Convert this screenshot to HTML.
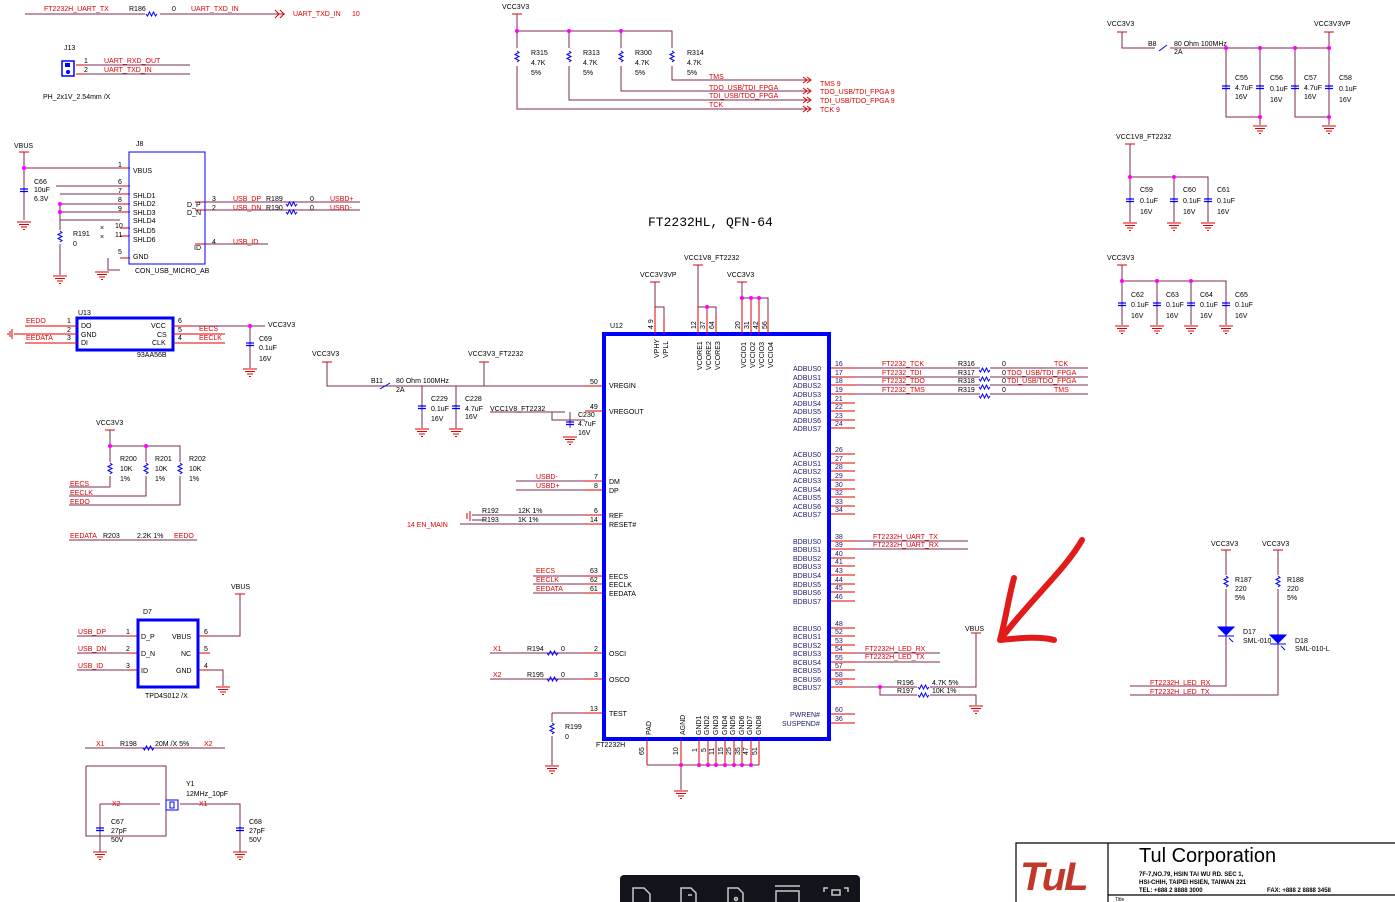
<!DOCTYPE html>
<html><head><meta charset="utf-8"><style>
html,body{margin:0;padding:0;background:#fff}
svg{display:block}
text{font-family:"Liberation Sans",sans-serif;font-size:7px;fill:#1a1a6e}
.r{fill:#e00000}
.b{fill:#000}
.w{stroke:#7b2a55;stroke-width:1;fill:none}
.p{stroke:#e00000;stroke-width:1;fill:none}
.bl{stroke:#0000ff;fill:none}
</style></head><body>
<svg width="1395" height="902" viewBox="0 0 1395 902" xmlns="http://www.w3.org/2000/svg">
<defs>
<g id="gnd"><path d="M-7 0h14M-5 2.5h10M-3 5h6M-1 7.5h2" stroke="#e00000" fill="none"/></g>
<g id="cap"><path d="M-4 -1h8M-4 1.5h8M0 -1v-1M0 1.5v1" stroke="#0000ff" stroke-width="1.2" fill="none"/></g>
<g id="rv"><path d="M0 -6l2 1.5l-4 2l4 2l-4 2l4 2l-2 1.5" stroke="#0000ff" fill="none"/></g>
<g id="rh"><path d="M-6 0l1.5 2l2 -4l2 4l2 -4l2 4l1.5 -2" stroke="#0000ff" fill="none"/></g>
<g id="dot"><circle r="2" fill="#ff00ff"/></g>
<g id="pw"><path d="M-5 0h10" stroke="#e00000"/></g>
</defs>

<!-- top-left UART -->
<path class="w" d="M25 14H145M160 14H285"/>
<use href="#rh" x="152" y="14"/>
<text x="44" y="11" class="r">FT2232H_UART_TX</text><text x="129" y="11" class="b">R186</text><text x="172" y="11" class="b">0</text><text x="191" y="11" class="r">UART_TXD_IN</text>
<path d="M275 10l4 4l-4 4M280 10l4 4l-4 4" stroke="#e00000" fill="none"/>
<text x="293" y="16" class="r">UART_TXD_IN</text><text x="352" y="16" class="r">10</text>
<text x="64" y="50" class="b">J13</text>
<rect x="62" y="61" width="12" height="15" fill="none" stroke="#0000ff" stroke-width="1.5"/>
<rect x="65" y="63" width="5" height="4" fill="#0000ff"/><circle cx="68" cy="72" r="2" fill="#0000ff"/>
<path class="p" d="M76 65h10M76 74h10"/><path class="w" d="M86 65H190M86 74H190"/>
<text x="84" y="63" class="b">1</text><text x="84" y="72" class="b">2</text>
<text x="104" y="63" class="r">UART_RXD_OUT</text><text x="104" y="72" class="r">UART_TXD_IN</text>
<text x="43" y="99" class="b">PH_2x1V_2.54mm /X</text>

<!-- pullups top -->
<text x="502" y="9" class="b">VCC3V3</text>
<use href="#pw" x="517" y="14"/>
<path class="w" d="M517 14V31H672V80H810M517 31V109H810M569 31V100H810M621 31V91H810"/>
<use href="#dot" x="517" y="31"/><use href="#dot" x="569" y="31"/><use href="#dot" x="621" y="31"/>
<rect x="514" y="48" width="7" height="18" fill="#fff"/><rect x="566" y="48" width="7" height="18" fill="#fff"/><rect x="618" y="48" width="7" height="18" fill="#fff"/><rect x="669" y="48" width="7" height="18" fill="#fff"/>
<use href="#rv" x="517" y="57"/><use href="#rv" x="569" y="57"/><use href="#rv" x="621" y="57"/><use href="#rv" x="672" y="57"/>
<text x="531" y="55" class="b">R315</text><text x="531" y="65" class="b">4.7K</text><text x="531" y="75" class="b">5%</text>
<text x="583" y="55" class="b">R313</text><text x="583" y="65" class="b">4.7K</text><text x="583" y="75" class="b">5%</text>
<text x="635" y="55" class="b">R300</text><text x="635" y="65" class="b">4.7K</text><text x="635" y="75" class="b">5%</text>
<text x="687" y="55" class="b">R314</text><text x="687" y="65" class="b">4.7K</text><text x="687" y="75" class="b">5%</text>
<text x="709" y="79" class="r">TMS</text><text x="709" y="90" class="r">TDO_USB/TDI_FPGA</text><text x="709" y="98" class="r">TDI_USB/TDO_FPGA</text><text x="709" y="107" class="r">TCK</text>
<path d="M803 77l4 3l-4 3M803 88l4 3l-4 3M803 97l4 3l-4 3M803 106l4 3l-4 3M807 77l4 3l-4 3M807 88l4 3l-4 3M807 97l4 3l-4 3M807 106l4 3l-4 3" stroke="#e00000" fill="none"/>
<text x="820" y="86" class="r">TMS  9</text><text x="820" y="94" class="r">TDO_USB/TDI_FPGA   9</text><text x="820" y="103" class="r">TDI_USB/TDO_FPGA   9</text><text x="820" y="112" class="r">TCK  9</text>

<!-- USB connector J8 -->
<text x="14" y="148" class="b">VBUS</text><use href="#pw" x="24" y="152"/>
<path class="w" d="M24 152V220M24 168H120M60 204V275M60 194H120M60 204H120M60 212H120M60 220H120M56 186H120M108 258V270H120M205 202H360M205 210H360M205 244H268"/>
<use href="#dot" x="24" y="168"/><use href="#dot" x="60" y="204"/><use href="#dot" x="60" y="212"/>
<use href="#cap" x="24" y="190"/><use href="#gnd" x="24" y="222"/><use href="#gnd" x="60" y="276"/><use href="#gnd" x="102" y="272"/>
<rect x="57" y="230" width="6" height="14" fill="#fff"/><use href="#rv" x="60" y="237"/>
<path class="p" d="M120 168h10M120 186h10M120 194h10M120 204h10M120 212h10M120 228h10M120 236h10M120 258h10M195 202h12M195 210h12M195 244h12"/>
<text x="100" y="230" class="b">×</text><text x="100" y="239" class="b">×</text>
<rect x="129" y="152" width="76" height="112" fill="none" stroke="#0000ff" stroke-width="1"/>
<text x="136" y="146" class="b">J8</text>
<text x="118" y="167" class="b">1</text><text x="118" y="184" class="b">6</text><text x="118" y="193" class="b">7</text><text x="118" y="202" class="b">8</text><text x="118" y="211" class="b">9</text><text x="115" y="228" class="b">10</text><text x="115" y="237" class="b">11</text><text x="118" y="254" class="b">5</text>
<text x="133" y="173" class="b">VBUS</text><text x="133" y="198" class="b">SHLD1</text><text x="133" y="206" class="b">SHLD2</text><text x="133" y="215" class="b">SHLD3</text><text x="133" y="223" class="b">SHLD4</text><text x="133" y="233" class="b">SHLD5</text><text x="133" y="242" class="b">SHLD6</text><text x="133" y="259" class="b">GND</text>
<text x="187" y="207" class="b">D_P</text><text x="187" y="215" class="b">D_N</text><text x="194" y="250" class="b">ID</text>
<text x="212" y="201" class="b">3</text><text x="212" y="210" class="b">2</text><text x="212" y="244" class="b">4</text>
<text x="233" y="201" class="r">USB_DP</text><text x="266" y="201" class="b">R189</text><text x="233" y="210" class="r">USB_DN</text><text x="266" y="210" class="b">R190</text>
<use href="#rh" x="292" y="204"/><use href="#rh" x="292" y="212"/>
<text x="310" y="201" class="b">0</text><text x="310" y="210" class="b">0</text><text x="330" y="201" class="r">USBD+</text><text x="330" y="210" class="r">USBD-</text>
<text x="233" y="244" class="r">USB_ID</text>
<text x="34" y="184" class="b">C66</text><text x="34" y="192" class="b">10uF</text><text x="34" y="201" class="b">6.3V</text>
<text x="73" y="236" class="b">R191</text><text x="73" y="246" class="b">0</text>
<text x="135" y="273" class="b">CON_USB_MICRO_AB</text>

<!-- U13 EEPROM -->
<rect x="77" y="318" width="96" height="32" fill="none" stroke="#0000ff" stroke-width="3"/>
<text x="78" y="315" class="b">U13</text>
<path class="p" d="M25 326h52M14 334h63M25 343h52M173 326h20M173 334h52M173 343h52"/>
<path class="w" d="M193 326H265M250 326V368"/><use href="#dot" x="250" y="326"/>
<path d="M12 329v10M10 331v6M8 333v2" stroke="#e00000"/>
<use href="#cap" x="250" y="344"/><use href="#gnd" x="250" y="369"/>
<text x="26" y="323" class="r">EEDO</text><text x="26" y="340" class="r">EEDATA</text>
<text x="67" y="323" class="b">1</text><text x="67" y="332" class="b">2</text><text x="67" y="340" class="b">3</text>
<text x="81" y="328" class="b">DO</text><text x="81" y="337" class="b">GND</text><text x="81" y="345" class="b">DI</text>
<text x="151" y="328" class="b">VCC</text><text x="157" y="337" class="b">CS</text><text x="152" y="345" class="b">CLK</text>
<text x="178" y="323" class="b">6</text><text x="178" y="332" class="b">5</text><text x="178" y="340" class="b">4</text>
<text x="199" y="331" class="r">EECS</text><text x="199" y="340" class="r">EECLK</text>
<text x="137" y="357" class="b">93AA56B</text>
<text x="268" y="327" class="b">VCC3V3</text>
<text x="259" y="341" class="b">C69</text><text x="259" y="350" class="b">0.1uF</text><text x="259" y="361" class="b">16V</text>

<!-- EEPROM pullups -->
<text x="96" y="425" class="b">VCC3V3</text><use href="#pw" x="110" y="430"/>
<path class="w" d="M110 430V446H180V505H69M110 446V487H69M146 446V496H69"/>
<use href="#dot" x="110" y="446"/><use href="#dot" x="146" y="446"/>
<rect x="107" y="462" width="6" height="14" fill="#fff"/><rect x="143" y="462" width="6" height="14" fill="#fff"/><rect x="177" y="462" width="6" height="14" fill="#fff"/>
<use href="#rv" x="110" y="469"/><use href="#rv" x="146" y="469"/><use href="#rv" x="180" y="469"/>
<text x="120" y="461" class="b">R200</text><text x="120" y="471" class="b">10K</text><text x="120" y="481" class="b">1%</text>
<text x="155" y="461" class="b">R201</text><text x="155" y="471" class="b">10K</text><text x="155" y="481" class="b">1%</text>
<text x="189" y="461" class="b">R202</text><text x="189" y="471" class="b">10K</text><text x="189" y="481" class="b">1%</text>
<text x="70" y="486" class="r">EECS</text><text x="70" y="495" class="r">EECLK</text><text x="70" y="504" class="r">EEDO</text>
<path class="w" d="M69 540H197"/>
<text x="70" y="538" class="r">EEDATA</text><text x="103" y="538" class="b">R203</text><text x="137" y="538" class="b">2.2K 1%</text><text x="174" y="538" class="r">EEDO</text>

<!-- D7 -->
<text x="231" y="589" class="b">VBUS</text><use href="#pw" x="240" y="594"/>
<path class="w" d="M240 594V636H210M77 636H128M77 653H128M77 670H128M210 670H223V686"/>
<path class="p" d="M128 636h10M128 653h10M128 670h10M198 636h12M198 653h12M198 670h12"/>
<rect x="138" y="620" width="60" height="67" fill="none" stroke="#0000ff" stroke-width="3"/>
<text x="143" y="614" class="b">D7</text>
<text x="78" y="634" class="r">USB_DP</text><text x="78" y="651" class="r">USB_DN</text><text x="78" y="668" class="r">USB_ID</text>
<text x="126" y="634" class="b">1</text><text x="126" y="651" class="b">2</text><text x="126" y="668" class="b">3</text>
<text x="141" y="639" class="b">D_P</text><text x="141" y="656" class="b">D_N</text><text x="141" y="673" class="b">ID</text>
<text x="172" y="639" class="b">VBUS</text><text x="181" y="656" class="b">NC</text><text x="176" y="673" class="b">GND</text>
<text x="204" y="634" class="b">6</text><text x="204" y="651" class="b">5</text><text x="204" y="668" class="b">4</text>
<use href="#gnd" x="223" y="687"/>
<text x="145" y="698" class="b">TPD4S012 /X</text>

<!-- crystal -->
<path class="w" d="M85 748H225M86 766V836H166V810M86 766H166V804M100 804H160M180 804H240V836M100 804V836"/>
<use href="#rh" x="149" y="748"/>
<text x="96" y="746" class="r">X1</text><text x="120" y="746" class="b">R198</text><text x="155" y="746" class="b">20M /X 5%</text><text x="204" y="746" class="r">X2</text>
<rect x="166" y="800" width="12" height="10" fill="#fff" stroke="#0000ff"/><rect x="170" y="802" width="4" height="6" fill="none" stroke="#0000ff"/>
<use href="#cap" x="100" y="829"/><use href="#cap" x="240" y="829"/>
<use href="#gnd" x="100" y="852"/><use href="#gnd" x="240" y="852"/>
<path class="w" d="M100 836V852M240 836V852"/>
<text x="186" y="786" class="b">Y1</text><text x="186" y="796" class="b">12MHz_10pF</text>
<text x="112" y="806" class="r">X2</text><text x="199" y="806" class="r">X1</text>
<text x="111" y="824" class="b">C67</text><text x="111" y="833" class="b">27pF</text><text x="111" y="842" class="b">50V</text>
<text x="249" y="824" class="b">C68</text><text x="249" y="833" class="b">27pF</text><text x="249" y="842" class="b">50V</text>

<!-- VREGIN network -->
<text x="312" y="356" class="b">VCC3V3</text><use href="#pw" x="327" y="362"/>
<text x="468" y="356" class="b">VCC3V3_FT2232</text><use href="#pw" x="484" y="362"/>
<path class="w" d="M327 362V386H585M484 362V386M422 386V428M456 386V428M490 412H565M552 412V420H585M570 412V428"/>
<path d="M380 389l10 -6" stroke="#0000ff"/>
<text x="371" y="383" class="b">B11</text><text x="396" y="383" class="b">80 Ohm 100MHz</text><text x="396" y="392" class="b">2A</text>
<use href="#cap" x="422" y="407"/><use href="#cap" x="456" y="407"/><use href="#cap" x="570" y="423"/>
<use href="#gnd" x="422" y="429"/><use href="#gnd" x="456" y="429"/><use href="#gnd" x="570" y="437"/>
<text x="431" y="401" class="b">C229</text><text x="431" y="411" class="b">0.1uF</text><text x="431" y="421" class="b">16V</text>
<text x="465" y="401" class="b">C228</text><text x="465" y="411" class="b">4.7uF</text><text x="465" y="419" class="b">16V</text>
<text x="490" y="411" class="b">VCC1V8_FT2232</text>
<text x="578" y="417" class="b">C230</text><text x="578" y="426" class="b">4.7uF</text><text x="578" y="435" class="b">16V</text>
<text x="648" y="226" class="b" style="font-family:'Liberation Mono',monospace;font-size:13px">FT2232HL, QFN-64</text>

<!-- left pins wiring -->
<path class="w" d="M516 481H585M516 490H585M485 515H585M485 524H585M533 576H585M533 584H585M533 593H585M490 653H585M490 679H585M552 713H585M552 713V765"/>
<path class="p" d="M585 386h18M585 411h18M585 481h18M585 490h18M585 515h18M585 524h18M585 576h18M585 584h18M585 593h18M585 653h18M585 679h18M585 713h18"/>
<text x="590" y="384" class="b">50</text><text x="590" y="409" class="b">49</text><text x="594" y="479" class="b">7</text><text x="594" y="488" class="b">8</text><text x="594" y="513" class="b">6</text><text x="590" y="522" class="b">14</text>
<text x="590" y="573" class="b">63</text><text x="590" y="582" class="b">62</text><text x="590" y="591" class="b">61</text><text x="594" y="651" class="b">2</text><text x="594" y="677" class="b">3</text><text x="590" y="711" class="b">13</text>
<text x="536" y="479" class="r">USBD-</text><text x="536" y="488" class="r">USBD+</text>
<path d="M470 511v10M467 513v6" stroke="#e00000"/><path class="w" d="M472 515H485M472 520H485"/>
<text x="482" y="513" class="b">R192</text><text x="518" y="513" class="b">12K  1%</text><text x="482" y="522" class="b">R193</text><text x="518" y="522" class="b">1K   1%</text>
<text x="407" y="527" class="r">14   EN_MAIN</text><path class="w" d="M460 524H485"/>
<text x="536" y="573" class="r">EECS</text><text x="536" y="582" class="r">EECLK</text><text x="536" y="591" class="r">EEDATA</text>
<text x="493" y="651" class="r">X1</text><text x="527" y="651" class="b">R194</text><text x="561" y="651" class="b">0</text>
<text x="493" y="677" class="r">X2</text><text x="527" y="677" class="b">R195</text><text x="561" y="677" class="b">0</text>
<use href="#rh" x="553" y="653"/><use href="#rh" x="553" y="679"/>
<rect x="549" y="722" width="6" height="14" fill="#fff"/><use href="#rv" x="552" y="729"/>
<text x="565" y="729" class="b">R199</text><text x="565" y="739" class="b">0</text><use href="#gnd" x="552" y="766"/>

<!-- main chip U12 -->
<rect x="604" y="334" width="225" height="405" fill="none" stroke="#0000ff" stroke-width="4"/>
<text x="610" y="328" class="b">U12</text><text x="596" y="747" class="b">FT2232H</text>
<text x="609" y="388" class="b">VREGIN</text><text x="609" y="414" class="b">VREGOUT</text>
<text x="609" y="484" class="b">DM</text><text x="609" y="493" class="b">DP</text><text x="609" y="518" class="b">REF</text><text x="609" y="527" class="b">RESET#</text>
<text x="609" y="579" class="b">EECS</text><text x="609" y="587" class="b">EECLK</text><text x="609" y="596" class="b">EEDATA</text>
<text x="609" y="656" class="b">OSCI</text><text x="609" y="682" class="b">OSCO</text><text x="609" y="716" class="b">TEST</text>
<!-- top pins -->
<text x="640" y="277" class="b">VCC3V3VP</text><text x="684" y="260" class="b">VCC1V8_FT2232</text><text x="727" y="277" class="b">VCC3V3</text>
<use href="#pw" x="655" y="282"/><use href="#pw" x="698" y="265"/><use href="#pw" x="742" y="282"/>
<path class="w" d="M655 282V307H664V316M698 265V307H716V316M707 307V316M742 282V298H768V316M751 298V316M759 298V316"/>
<path class="p" d="M655 307v27M664 316v18M698 307v27M707 316v18M716 316v18M742 298v36M751 298v36M759 298v36M768 316v18"/>
<use href="#dot" x="707" y="307"/><use href="#dot" x="742" y="298"/><use href="#dot" x="751" y="298"/><use href="#dot" x="759" y="298"/>
<g transform="rotate(-90)">
<text x="-329" y="653" class="b">4 9</text><text x="-329" y="696" class="b">12</text><text x="-329" y="705" class="b">37</text><text x="-329" y="714" class="b">64</text>
<text x="-329" y="740" class="b">20</text><text x="-329" y="749" class="b">31</text><text x="-329" y="758" class="b">42</text><text x="-329" y="767" class="b">56</text>
<text x="-358" y="659" class="b">VPHY</text><text x="-358" y="668" class="b">VPLL</text>
<text x="-370" y="702" class="b">VCORE1</text><text x="-370" y="711" class="b">VCORE2</text><text x="-370" y="720" class="b">VCORE3</text>
<text x="-368" y="746" class="b">VCCIO1</text><text x="-368" y="755" class="b">VCCIO2</text><text x="-368" y="764" class="b">VCCIO3</text><text x="-368" y="773" class="b">VCCIO4</text>
<text x="-735" y="651" class="b">PAD</text><text x="-735" y="685" class="b">AGND</text>
<text x="-735" y="701" class="b">GND1</text><text x="-735" y="709" class="b">GND2</text><text x="-735" y="718" class="b">GND3</text><text x="-735" y="727" class="b">GND4</text><text x="-735" y="735" class="b">GND5</text><text x="-735" y="744" class="b">GND6</text><text x="-735" y="752" class="b">GND7</text><text x="-735" y="761" class="b">GND8</text>
<text x="-755" y="644" class="b">65</text><text x="-755" y="678" class="b">10</text><text x="-752" y="697" class="b">1</text><text x="-752" y="706" class="b">5</text><text x="-755" y="714" class="b">11</text><text x="-755" y="723" class="b">15</text><text x="-755" y="731" class="b">25</text><text x="-755" y="740" class="b">35</text><text x="-755" y="748" class="b">47</text><text x="-755" y="757" class="b">51</text>
</g>
<!-- bottom pins -->
<path class="p" d="M647 741v24M681 741v24M699 741v24M708 741v24M716 741v24M725 741v24M734 741v24M742 741v24M751 741v24M759 741v24"/>
<path class="w" d="M647 765H759M681 765V790"/>
<use href="#dot" x="681" y="765"/><use href="#dot" x="699" y="765"/><use href="#dot" x="708" y="765"/><use href="#dot" x="716" y="765"/><use href="#dot" x="725" y="765"/><use href="#dot" x="734" y="765"/><use href="#dot" x="742" y="765"/><use href="#dot" x="751" y="765"/>
<use href="#gnd" x="681" y="791"/>
<!-- right pins -->
<path class="p" d="M831 368h24M831 377h24M831 385h24M831 394h24M831 403h24M831 411h24M831 420h24M831 428h24
M831 454h24M831 463h24M831 471h24M831 480h24M831 489h24M831 497h24M831 506h24M831 514h24
M831 541h24M831 549h24M831 558h24M831 566h24M831 575h24M831 584h24M831 592h24M831 601h24
M831 628h24M831 636h24M831 645h24M831 653h24M831 662h24M831 670h24M831 679h24M831 687h24
M831 714h24M831 723h24"/>
<g class="b" style="font-size:6.5px">
<text x="793" y="371">ADBUS0</text><text x="793" y="380">ADBUS1</text><text x="793" y="388">ADBUS2</text><text x="793" y="397">ADBUS3</text><text x="793" y="406">ADBUS4</text><text x="793" y="414">ADBUS5</text><text x="793" y="423">ADBUS6</text><text x="793" y="431">ADBUS7</text>
<text x="793" y="457">ACBUS0</text><text x="793" y="466">ACBUS1</text><text x="793" y="474">ACBUS2</text><text x="793" y="483">ACBUS3</text><text x="793" y="492">ACBUS4</text><text x="793" y="500">ACBUS5</text><text x="793" y="509">ACBUS6</text><text x="793" y="517">ACBUS7</text>
<text x="793" y="544">BDBUS0</text><text x="793" y="552">BDBUS1</text><text x="793" y="561">BDBUS2</text><text x="793" y="569">BDBUS3</text><text x="793" y="578">BDBUS4</text><text x="793" y="587">BDBUS5</text><text x="793" y="595">BDBUS6</text><text x="793" y="604">BDBUS7</text>
<text x="793" y="631">BCBUS0</text><text x="793" y="639">BCBUS1</text><text x="793" y="648">BCBUS2</text><text x="793" y="656">BCBUS3</text><text x="793" y="665">BCBUS4</text><text x="793" y="673">BCBUS5</text><text x="793" y="682">BCBUS6</text><text x="793" y="690">BCBUS7</text>
<text x="790" y="717">PWREN#</text><text x="782" y="726">SUSPEND#</text>
<text x="835" y="366">16</text><text x="835" y="375">17</text><text x="835" y="383">18</text><text x="835" y="392">19</text><text x="835" y="401">21</text><text x="835" y="409">22</text><text x="835" y="418">23</text><text x="835" y="426">24</text>
<text x="835" y="452">26</text><text x="835" y="461">27</text><text x="835" y="469">28</text><text x="835" y="478">29</text><text x="835" y="487">30</text><text x="835" y="495">32</text><text x="835" y="504">33</text><text x="835" y="512">34</text>
<text x="835" y="539">38</text><text x="835" y="547">39</text><text x="835" y="556">40</text><text x="835" y="564">41</text><text x="835" y="573">43</text><text x="835" y="582">44</text><text x="835" y="590">45</text><text x="835" y="599">46</text>
<text x="835" y="626">48</text><text x="835" y="634">52</text><text x="835" y="643">53</text><text x="835" y="651">54</text><text x="835" y="660">55</text><text x="835" y="668">57</text><text x="835" y="677">58</text><text x="835" y="685">59</text>
<text x="835" y="712">60</text><text x="835" y="721">36</text>
</g>
<path class="w" d="M855 368H980M855 377H980M855 385H980M855 394H980M990 368H1088M990 377H1088M990 385H1088M990 394H1088M855 541H968M855 549H968M855 653H940M855 662H940M855 687H917M880 687V695H917M930 687H976V633M930 695H976V705"/>
<use href="#rh" x="985" y="370"/><use href="#rh" x="985" y="379"/><use href="#rh" x="985" y="387"/><use href="#rh" x="985" y="396"/>
<use href="#rh" x="924" y="687"/><use href="#rh" x="924" y="695"/><use href="#dot" x="880" y="687"/>
<use href="#pw" x="976" y="633"/><use href="#gnd" x="976" y="706"/>
<text x="882" y="366" class="r">FT2232_TCK</text><text x="882" y="375" class="r">FT2232_TDI</text><text x="882" y="383" class="r">FT2232_TDO</text><text x="882" y="392" class="r">FT2232_TMS</text>
<text x="958" y="366" class="b">R316</text><text x="958" y="375" class="b">R317</text><text x="958" y="383" class="b">R318</text><text x="958" y="392" class="b">R319</text>
<text x="1002" y="366" class="b">0</text><text x="1002" y="375" class="b">0</text><text x="1002" y="383" class="b">0</text><text x="1002" y="392" class="b">0</text>
<text x="1054" y="366" class="r">TCK</text><text x="1007" y="375" class="r">TDO_USB/TDI_FPGA</text><text x="1007" y="383" class="r">TDI_USB/TDO_FPGA</text><text x="1054" y="392" class="r">TMS</text>
<text x="873" y="539" class="r">FT2232H_UART_TX</text><text x="873" y="547" class="r">FT2232H_UART_RX</text>
<text x="865" y="651" class="r">FT2232H_LED_RX</text><text x="865" y="659" class="r">FT2232H_LED_TX</text>
<text x="897" y="685" class="b">R196</text><text x="932" y="685" class="b">4.7K 5%</text><text x="897" y="693" class="b">R197</text><text x="932" y="693" class="b">10K  1%</text>
<text x="965" y="631" class="b">VBUS</text>
<!-- red arrow -->
<path d="M1082 540C1065 570 1030 600 1000 640M1000 640C1006 618 1008 600 1014 578M1000 640C1020 638 1040 636 1054 640" stroke="#e21a1a" stroke-width="6" stroke-linecap="round" stroke-linejoin="round" fill="none"/>

<!-- right power section -->
<text x="1107" y="26" class="b">VCC3V3</text><text x="1314" y="26" class="b">VCC3V3VP</text>
<use href="#pw" x="1122" y="32"/><use href="#pw" x="1329" y="32"/>
<path class="w" d="M1122 32V48H1155M1170 48H1329V117H1295V48M1329 32V48M1226 48V117H1260V48M1260 117V125M1329 117V125"/>
<path d="M1159 51l8 -6" stroke="#0000ff"/>
<use href="#dot" x="1226" y="48"/><use href="#dot" x="1260" y="48"/><use href="#dot" x="1295" y="48"/><use href="#dot" x="1329" y="48"/><use href="#dot" x="1260" y="117"/><use href="#dot" x="1329" y="117"/>
<use href="#cap" x="1226" y="87"/><use href="#cap" x="1260" y="87"/><use href="#cap" x="1295" y="87"/><use href="#cap" x="1329" y="87"/>
<use href="#gnd" x="1260" y="126"/><use href="#gnd" x="1329" y="126"/>
<text x="1148" y="46" class="b">B8</text><text x="1174" y="46" class="b">80 Ohm 100MHz</text><text x="1174" y="54" class="b">2A</text>
<text x="1235" y="80" class="b">C55</text><text x="1235" y="90" class="b">4.7uF</text><text x="1235" y="99" class="b">16V</text>
<text x="1270" y="80" class="b">C56</text><text x="1270" y="91" class="b">0.1uF</text><text x="1270" y="102" class="b">16V</text>
<text x="1304" y="80" class="b">C57</text><text x="1304" y="90" class="b">4.7uF</text><text x="1304" y="99" class="b">16V</text>
<text x="1339" y="80" class="b">C58</text><text x="1339" y="91" class="b">0.1uF</text><text x="1339" y="102" class="b">16V</text>
<text x="1116" y="139" class="b">VCC1V8_FT2232</text><use href="#pw" x="1130" y="144"/>
<path class="w" d="M1130 144V222M1130 177H1208V222M1174 177V222"/>
<use href="#dot" x="1130" y="177"/><use href="#dot" x="1174" y="177"/>
<use href="#cap" x="1130" y="200"/><use href="#cap" x="1174" y="200"/><use href="#cap" x="1208" y="200"/>
<use href="#gnd" x="1130" y="223"/><use href="#gnd" x="1174" y="223"/><use href="#gnd" x="1208" y="223"/>
<text x="1140" y="192" class="b">C59</text><text x="1140" y="203" class="b">0.1uF</text><text x="1140" y="214" class="b">16V</text>
<text x="1183" y="192" class="b">C60</text><text x="1183" y="203" class="b">0.1uF</text><text x="1183" y="214" class="b">16V</text>
<text x="1217" y="192" class="b">C61</text><text x="1217" y="203" class="b">0.1uF</text><text x="1217" y="214" class="b">16V</text>
<text x="1107" y="260" class="b">VCC3V3</text><use href="#pw" x="1122" y="265"/>
<path class="w" d="M1122 265V325M1122 281H1226V325M1157 281V325M1191 281V325"/>
<use href="#dot" x="1122" y="281"/><use href="#dot" x="1157" y="281"/><use href="#dot" x="1191" y="281"/>
<use href="#cap" x="1122" y="304"/><use href="#cap" x="1157" y="304"/><use href="#cap" x="1191" y="304"/><use href="#cap" x="1226" y="304"/>
<use href="#gnd" x="1122" y="326"/><use href="#gnd" x="1157" y="326"/><use href="#gnd" x="1191" y="326"/><use href="#gnd" x="1226" y="326"/>
<text x="1131" y="297" class="b">C62</text><text x="1131" y="307" class="b">0.1uF</text><text x="1131" y="318" class="b">16V</text>
<text x="1166" y="297" class="b">C63</text><text x="1166" y="307" class="b">0.1uF</text><text x="1166" y="318" class="b">16V</text>
<text x="1200" y="297" class="b">C64</text><text x="1200" y="307" class="b">0.1uF</text><text x="1200" y="318" class="b">16V</text>
<text x="1235" y="297" class="b">C65</text><text x="1235" y="307" class="b">0.1uF</text><text x="1235" y="318" class="b">16V</text>

<!-- LEDs -->
<text x="1211" y="546" class="b">VCC3V3</text><text x="1262" y="546" class="b">VCC3V3</text>
<use href="#pw" x="1226" y="550"/><use href="#pw" x="1278" y="550"/>
<path class="w" d="M1226 550V686H1130M1278 550V695H1130"/>
<rect x="1223" y="575" width="6" height="14" fill="#fff"/><rect x="1275" y="575" width="6" height="14" fill="#fff"/>
<use href="#rv" x="1226" y="582"/><use href="#rv" x="1278" y="582"/>
<path d="M1218 627h16l-8 8zM1218 636h16M1270 635h16l-8 8zM1270 644h16" fill="#0000ff" stroke="#0000ff"/>
<path d="M1229 638l4 4M1281 646l4 4" stroke="#0000ff"/>
<text x="1235" y="582" class="b">R187</text><text x="1235" y="591" class="b">220</text><text x="1235" y="600" class="b">5%</text>
<text x="1287" y="582" class="b">R188</text><text x="1287" y="591" class="b">220</text><text x="1287" y="600" class="b">5%</text>
<text x="1243" y="634" class="b">D17</text><text x="1243" y="643" class="b">SML-010</text>
<text x="1295" y="643" class="b">D18</text><text x="1295" y="651" class="b">SML-010-L</text>
<text x="1150" y="685" class="r">FT2232H_LED_RX</text><text x="1150" y="694" class="r">FT2232H_LED_TX</text>

<!-- title block -->
<path d="M1016 902V843H1395M1108 843V902M1108 895H1395" stroke="#000" stroke-width="1.2" fill="none"/>
<text x="1020" y="890" style="font-family:'Liberation Sans',sans-serif;font-size:40px;font-style:italic;font-weight:bold;fill:#c0392b;letter-spacing:-2px">TuL</text>
<text x="1139" y="862" class="b" style="font-size:20px">Tul Corporation</text>
<text x="1139" y="876" class="b" style="font-size:6px;font-weight:bold">7F-7,NO.79, HSIN TAI WU RD. SEC 1,</text>
<text x="1139" y="884" class="b" style="font-size:6px;font-weight:bold">HSI-CHIH, TAIPEI HSIEN, TAIWAN 221</text>
<text x="1139" y="892" class="b" style="font-size:6px;font-weight:bold">TEL: +888 2 8888 3000</text>
<text x="1267" y="892" class="b" style="font-size:6px;font-weight:bold">FAX: +888 2 8888 3458</text>
<text x="1115" y="901" class="b" style="font-size:5px">Title</text>

<!-- toolbar -->
<rect x="620" y="875" width="240" height="35" rx="4" fill="#11141b"/>
<g stroke="#c8c8c8" stroke-width="1.5" fill="none">
<path d="M633 902v-14h11l6 6v8"/><path d="M681 902v-14h10l5 5v9M688 895h4"/><path d="M728 902v-14h10l5 5v9"/><circle cx="736" cy="899" r="1.5"/>
<path d="M775 886h25M776 902v-11h23v11"/><path d="M824 892v-4h4M848 892v-4h-4M832 890h8v5h-8z"/>
</g>
</svg>
</body></html>
